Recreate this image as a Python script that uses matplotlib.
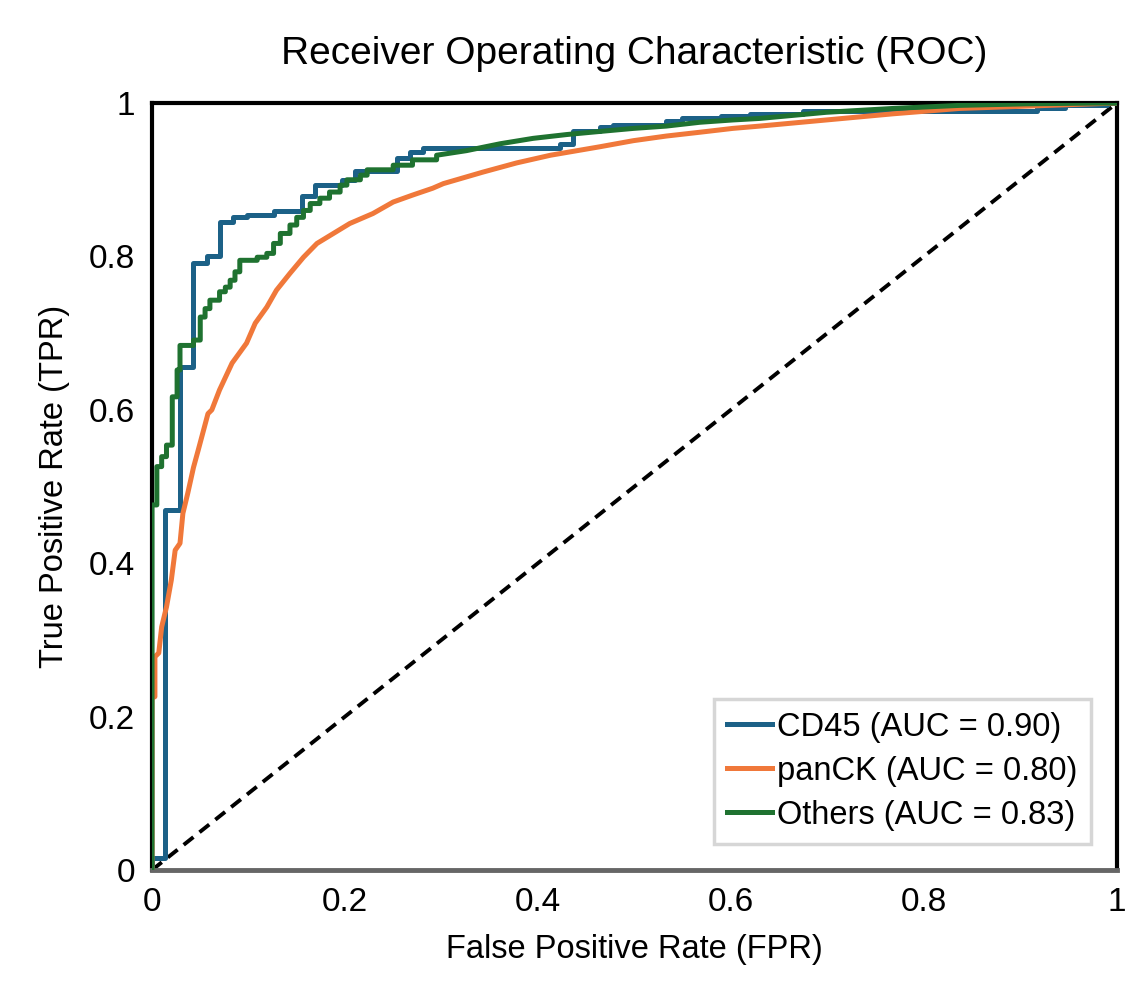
import matplotlib
matplotlib.use("Agg")
import matplotlib.pyplot as plt
from matplotlib.ticker import FuncFormatter

plt.rcParams['font.family'] = ['Liberation Sans', 'DejaVu Sans']

##### Data #############################
# CD45: step curve corners (fpr, tpr)
cd45_fpr = [0, 0, 0.013, 0.013, 0.029, 0.029, 0.042, 0.042, 0.057, 0.057, 0.070, 0.070,
            0.084, 0.084, 0.098, 0.098, 0.126, 0.126, 0.155, 0.155, 0.169, 0.169,
            0.197, 0.197, 0.210, 0.210, 0.254, 0.254, 0.267, 0.267, 0.281, 0.281,
            0.423, 0.423, 0.436, 0.436, 0.464, 0.464, 0.478, 0.478, 0.533, 0.533,
            0.549, 0.549, 0.590, 0.590, 0.620, 0.620, 0.675, 0.675, 0.917, 0.917,
            0.946, 0.946, 0.990, 0.990, 1.0]
cd45_tpr = [0, 0.016, 0.016, 0.470, 0.470, 0.656, 0.656, 0.791, 0.791, 0.800, 0.800, 0.845,
            0.845, 0.851, 0.851, 0.854, 0.854, 0.859, 0.859, 0.879, 0.879, 0.893,
            0.893, 0.900, 0.900, 0.911, 0.911, 0.928, 0.928, 0.936, 0.936, 0.942,
            0.942, 0.947, 0.947, 0.963, 0.963, 0.969, 0.969, 0.971, 0.971, 0.976,
            0.976, 0.980, 0.980, 0.983, 0.983, 0.986, 0.986, 0.990, 0.990, 0.993,
            0.993, 0.997, 0.997, 1.0, 1.0]

# panCK
panck_fpr = [0, 0, 0.003, 0.003, 0.007, 0.010, 0.015, 0.020, 0.024, 0.029, 0.032, 0.037,
             0.043, 0.048, 0.058, 0.062, 0.070, 0.083, 0.098, 0.107, 0.119, 0.129,
             0.143, 0.157, 0.171, 0.188, 0.205, 0.229, 0.250, 0.270, 0.291, 0.302,
             0.343, 0.378, 0.413, 0.464, 0.499, 0.533, 0.568, 0.602, 0.630, 0.699,
             0.768, 0.837, 0.906, 0.975, 1.0]
panck_tpr = [0, 0.224, 0.226, 0.278, 0.283, 0.317, 0.343, 0.378, 0.417, 0.426, 0.465, 0.491,
             0.525, 0.548, 0.595, 0.600, 0.626, 0.661, 0.687, 0.713, 0.734, 0.756,
             0.778, 0.799, 0.817, 0.830, 0.843, 0.856, 0.871, 0.880, 0.889, 0.895,
             0.910, 0.922, 0.932, 0.943, 0.951, 0.957, 0.962, 0.967, 0.970, 0.978,
             0.986, 0.993, 0.996, 0.999, 1.0]

# Others
others_fpr = [0, 0, 0.005, 0.005, 0.010, 0.010, 0.015, 0.015, 0.021, 0.021, 0.026, 0.026,
              0.029, 0.029, 0.043, 0.043, 0.050, 0.050, 0.055, 0.055, 0.060, 0.060,
              0.070, 0.070, 0.076, 0.076, 0.081, 0.081, 0.086, 0.086, 0.091, 0.091,
              0.109, 0.109, 0.119, 0.119, 0.126, 0.126, 0.133, 0.133, 0.143, 0.143,
              0.150, 0.150, 0.157, 0.157, 0.164, 0.164, 0.174, 0.174, 0.184, 0.184,
              0.195, 0.195, 0.202, 0.202, 0.216, 0.216, 0.223, 0.223, 0.250, 0.250,
              0.270, 0.270, 0.295, 0.295, 0.326, 0.361, 0.395, 0.430, 0.464, 0.499,
              0.533, 0.568, 0.602, 0.630, 0.699, 0.768, 0.837, 0.906, 0.975, 1.0]
others_tpr = [0, 0.476, 0.476, 0.526, 0.526, 0.539, 0.539, 0.554, 0.554, 0.617, 0.617, 0.652,
              0.652, 0.684, 0.684, 0.691, 0.691, 0.721, 0.721, 0.732, 0.732, 0.743,
              0.743, 0.754, 0.754, 0.760, 0.760, 0.769, 0.769, 0.780, 0.780, 0.795,
              0.795, 0.799, 0.799, 0.804, 0.804, 0.817, 0.817, 0.830, 0.830, 0.841,
              0.841, 0.851, 0.851, 0.860, 0.860, 0.869, 0.869, 0.876, 0.876, 0.884,
              0.884, 0.893, 0.893, 0.900, 0.900, 0.906, 0.906, 0.913, 0.913, 0.919,
              0.919, 0.926, 0.926, 0.932, 0.938, 0.947, 0.954, 0.959, 0.963, 0.967,
              0.970, 0.975, 0.978, 0.980, 0.988, 0.993, 0.997, 0.999, 1.0, 1.0]

labels = ["CD45 (AUC = 0.90)", "panCK (AUC = 0.80)", "Others (AUC = 0.83)"]
colors = ["#1c6187", "#f0783a", "#1f7230"]
ticks = [0, 0.2, 0.4, 0.6, 0.8, 1]
##########################################

fig = plt.figure(figsize=(11.43, 9.96), dpi=100)
ax = fig.add_axes([0.133, 0.1265, 0.844, 0.770])

ax.plot(cd45_fpr, cd45_tpr, color=colors[0], lw=3.6, label=labels[0], zorder=3)
ax.plot(panck_fpr, panck_tpr, color=colors[1], lw=3.6, label=labels[1], zorder=3)
ax.plot(others_fpr, others_tpr, color=colors[2], lw=3.6, label=labels[2], zorder=3)
ax.plot([0, 1], [0, 1], color="black", lw=2.8, linestyle=(0, (3.2, 2.0)), zorder=2)

ax.set_xlim(0, 1)
ax.set_ylim(0, 1)
ax.set_xticks(ticks)
ax.set_yticks(ticks)
fmt = FuncFormatter(lambda v, p: "{0:g}".format(v))
ax.xaxis.set_major_formatter(fmt)
ax.yaxis.set_major_formatter(fmt)
ax.tick_params(length=0, labelsize=24, pad=12)

for s in ["top", "left", "right"]:
    ax.spines[s].set_linewidth(3)
    ax.spines[s].set_color("black")
ax.spines["bottom"].set_linewidth(3.5)
ax.spines["bottom"].set_color("#666666")

ax.set_title("Receiver Operating Characteristic (ROC)", fontsize=28, pad=28)
ax.set_xlabel("False Positive Rate (FPR)", fontsize=23.5, labelpad=12)
ax.set_ylabel("True Positive Rate (TPR)", fontsize=23.5, labelpad=14)

leg = ax.legend(loc="lower right", fontsize=23.5, frameon=True, fancybox=False,
                handlelength=1.4, handletextpad=0.15, borderpad=0.4,
                labelspacing=0.4, borderaxespad=0.8)
leg.get_frame().set_edgecolor("#cccccc")
leg.get_frame().set_linewidth(2.5)

fig.savefig("out.png", dpi=100)
